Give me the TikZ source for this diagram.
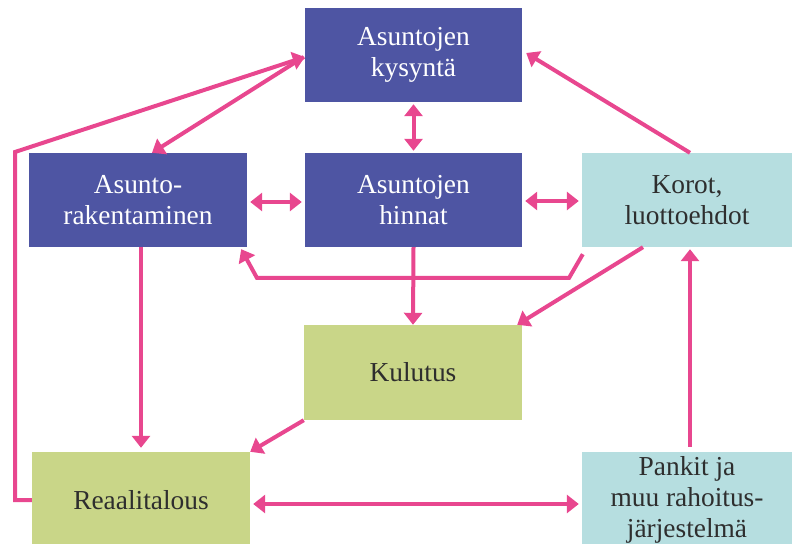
\documentclass[tikz,border=0pt]{standalone}
\usepackage{fontspec}
\setmainfont{Liberation Serif}
\usetikzlibrary{arrows.meta}
\usetikzlibrary{calc}

\definecolor{boxblue}{HTML}{4E55A3}
\definecolor{boxcyan}{HTML}{B6DEE0}
\definecolor{boxgreen}{HTML}{C9D688}
\definecolor{linkpink}{HTML}{E8478F}
\definecolor{darktext}{HTML}{2E2E2E}

\begin{document}
\begin{tikzpicture}[x=1bp, y=-1bp,
    box/.style={minimum height=94bp, align=center, inner sep=0pt, font=\fontsize{27.5}{31.5}\selectfont},
    bluebox/.style={box, fill=boxblue, text=white, minimum width=217bp},
    cyanbox/.style={box, fill=boxcyan, text=darktext, minimum width=210bp},
    greenbox/.style={box, fill=boxgreen, text=darktext, minimum width=218bp},
    link/.style={draw=linkpink, line width=4bp, -{Triangle[width=18bp,length=12bp]}},
    twoway/.style={link, {Triangle[width=18bp,length=12bp]}-{Triangle[width=18bp,length=12bp]}}]
            \useasboundingbox (0,0) rectangle (792,544);
            \clip (0,0) rectangle (792,544);
            % boxes
            \node[bluebox] (kysynta) at (413.5,55) {Asuntojen\\kysyntä};
            \node[bluebox, minimum width=218bp] (rakent) at (138,200) {Asunto-\\rakentaminen};
            \node[bluebox] (hinnat) at (413.5,200) {Asuntojen\\hinnat};
            \node[cyanbox] (korot) at (687,200) {Korot,\\luottoehdot};
            \node[greenbox, minimum height=95bp] (kulutus) at (413,372.5) {Kulutus};
            \node[greenbox, minimum height=96bp] (reaali) at (141,500) {Reaalitalous};
            \node[cyanbox, minimum height=96bp] (pankit) at (687,500) {Pankit ja\\muu rahoitus-\\järjestelmä};
            % corners of the bent lines
            \coordinate (vasen) at (15,152);
            \coordinate (alaoik) at (569,278);
            \coordinate (alavas) at (257,278);
            % arrows
            \draw[twoway] ($(kysynta.south)+(0,2)$) -- ($(hinnat.north)+(0,-2)$);
            \draw[twoway] ($(rakent.east)+(3,2)$) -- ($(hinnat.west)+(-3,2)$);
            \draw[twoway] ($(hinnat.east)+(3,1)$) -- ($(korot.west)+(-3,1)$);
            \draw[link] ($(kysynta.west)+(-1,2)$) -- ($(rakent.north)+(14,0)$);
            \draw[link] (reaali.west) -| (vasen) -- ($(kysynta.west)+(0,2)$);
            \draw[link] (rakent.south -| reaali.north) -- ($(reaali.north)+(0,-4)$);
            \draw[link] (hinnat.south) -- (kulutus.north);
            \draw[link] ($(korot.south)+(-44,0)$) -- ($(kulutus.north east)+(-5,0)$);
            \draw[link] ($(korot.north)+(3,0)$) -- ($(kysynta.east)+(4,-2)$);
            \draw[link] ($(korot.south west)+(1,7)$) -- (alaoik) -- (alavas) -- ($(rakent.south east)+(-6,2)$);
            \draw[link] (kulutus.south west) -- (reaali.north east);
            \draw[twoway] ($(reaali.east)+(3,4)$) -- ($(pankit.west)+(-3,4)$);
            \draw[link] ($(pankit.north)+(3,-5)$) -- ($(korot.south)+(3,2)$);
        \end{tikzpicture}
\end{document}
